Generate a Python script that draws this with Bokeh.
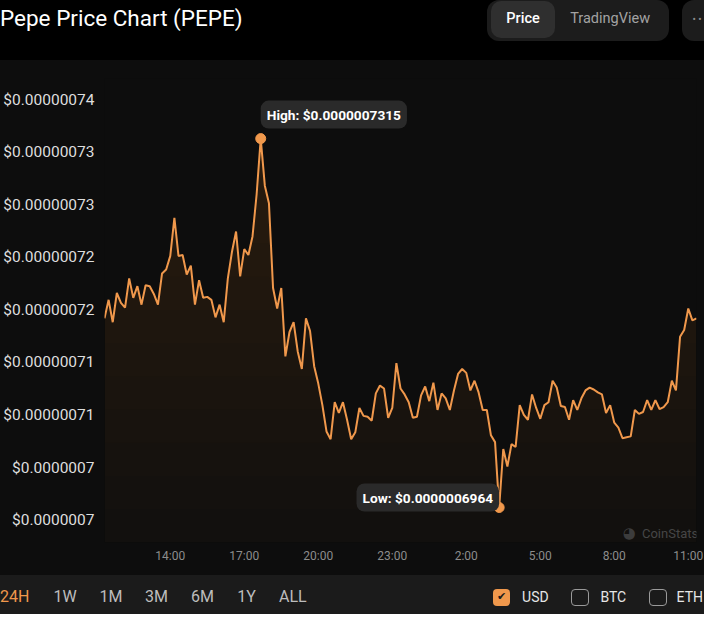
import numpy as np
import pandas as pd
from bokeh.plotting import figure
from bokeh.layouts import column
from bokeh.models import Range1d, FixedTicker, Label, DatetimeTickFormatter, Div
from bokeh.embed import file_html
from bokeh.resources import INLINE

# ---------------- data ----------------
title_text = "Pepe Price Chart (PEPE)"
start_time = "2024-05-27 11:20"
step = "10min"
# PEPE price in units of 1e-9 USD, one value every 10 minutes over 24h
price_nano = [
    714.40, 716.16, 714.03, 716.81, 715.88, 715.42, 718.20, 716.35, 717.46, 715.70,
    717.55, 717.46, 716.72, 715.70, 718.67, 719.04, 720.34, 723.95, 720.34, 720.43,
    718.57, 719.41, 715.70, 718.02, 716.35, 716.44, 716.16, 714.49, 715.70, 714.03,
    718.20, 720.71, 722.66, 718.39, 720.99, 720.43, 722.19, 726.18, 731.50, 727.02,
    725.35, 717.28, 715.33, 717.28, 710.78, 713.10, 714.03, 711.25, 709.58, 714.40,
    713.19, 709.85, 708.19, 706.14, 703.64, 702.90, 706.42, 705.40, 706.42, 704.75,
    702.90, 703.55, 705.87, 705.12, 705.03, 704.66, 707.26, 708.00, 707.72, 704.94,
    705.87, 710.13, 707.72, 707.16, 706.42, 704.94, 705.03, 707.07, 707.91, 706.52,
    708.28, 705.68, 707.26, 706.79, 705.68, 707.54, 709.11, 709.58, 709.21, 707.54,
    708.46, 707.35, 705.68, 705.68, 703.27, 702.62, 696.40, 701.97, 700.30, 702.43,
    702.16, 706.14, 705.22, 704.75, 707.16, 705.87, 704.84, 706.14, 706.42, 708.46,
    707.81, 706.05, 705.96, 704.75, 706.61, 705.68, 706.79, 707.54, 707.81, 707.63,
    707.35, 707.16, 705.40, 706.14, 704.47, 704.01, 702.99, 703.08, 703.17, 705.68,
    705.31, 705.49, 706.61, 705.68, 706.61, 705.77, 705.96, 706.42, 708.46, 707.54,
    712.64, 713.29, 715.33, 714.21, 714.40,
]
y_range_nano = [693.07, 737.22]
y_tick_nano = [695.2, 700.2, 705.2, 710.2, 715.2, 720.2, 725.2, 730.2, 735.2]
y_tick_labels = ["$0.0000007", "$0.0000007", "$0.00000071", "$0.00000071",
                 "$0.00000072", "$0.00000072", "$0.00000073", "$0.00000073",
                 "$0.00000074"]
x_tick_labels = ["14:00", "17:00", "20:00", "23:00", "2:00", "5:00", "8:00", "11:00"]
view_tabs = ["Price", "TradingView"]
range_buttons = ["24H", "1W", "1M", "3M", "6M", "1Y", "ALL"]
currencies = ["USD", "BTC", "ETH"]

# ---------------- styling / layout ----------------
ORANGE = "#f0984c"
CHART_BG = "#0d0d0d"
FOOT_BG = "#1b1b1b"
FONT = "Roboto"
W, H = 704, 614
SX, SY = W / 720, H / 630
HEAD_H, FOOT_H = 60, 39
CHART_H = H - HEAD_H - FOOT_H
FL, FR, FT, FB = 103, 8, 18, 33


def px(v):
    return f"{v:.1f}px"


def abs_box(left, top, width, height, inner="", style=""):
    return (f'<div style="position:absolute;left:{px(left * SX)};top:{px(top * SY)};'
            f'width:{px(width * SX)};height:{px(height * SY)};display:flex;'
            f'align-items:center;{style}">{inner}</div>')


# ---------------- header (HTML) ----------------
head_html = [f'<div style="position:relative;width:{W}px;height:{HEAD_H}px;background:#000;'
             f'font-family:{FONT};overflow:hidden;margin:0;padding:0">']
head_html.append(abs_box(0, 0, 400, 38, title_text,
                         "font-size:22.5px;color:#ffffff;white-space:nowrap"))
head_html.append(abs_box(498, 0, 186, 42, "", "background:#1c1c1c;border-radius:12px"))
head_html.append(abs_box(502, 1, 66, 38, "", "background:#2f2f2f;border-radius:10px"))
for name, l, w, col, wt in zip(view_tabs, [502, 568], [66, 112], ["#ffffff", "#a3a3a3"],
                               [500, 400]):
    head_html.append(abs_box(l, 1, w, 38, name,
                             f"justify-content:center;font-size:14.5px;color:{col};"
                             f"font-weight:{wt}"))
head_html.append(abs_box(697, 0, 60, 42, "", "background:#1c1c1c;border-radius:12px"))
head_html.append(abs_box(700, 0, 26, 42, "• •",
                         "justify-content:center;font-size:10px;color:#8a8a8a"))
head_html.append("</div>")
header = Div(text="".join(head_html), width=W, height=HEAD_H, margin=0,
             styles={"background-color": "#000000"})

# ---------------- chart ----------------
prices = np.array(price_nano) * 1e-9
times = pd.date_range(start=start_time, periods=len(prices), freq=step)

start = times[0]
x_ticks, last = [], start
for lab in x_tick_labels:
    hh, mm = map(int, lab.split(":"))
    t = start.normalize() + pd.Timedelta(hours=hh, minutes=mm)
    while t <= last:
        t += pd.Timedelta(days=1)
    x_ticks.append(float(t.value // 10**6))
    last = t
y_ticks = [v * 1e-9 for v in y_tick_nano]

p = figure(width=W, height=CHART_H, x_axis_type="datetime",
           x_range=Range1d(times[0], times[-1]),
           y_range=Range1d(y_range_nano[0] * 1e-9, y_range_nano[1] * 1e-9),
           output_backend="svg", toolbar_location=None, margin=0,
           min_border_left=FL, min_border_right=FR, min_border_top=FT, min_border_bottom=FB,
           background_fill_color=CHART_BG, border_fill_color=None,
           styles={"background-color": CHART_BG})
p.outline_line_color = None
p.grid.visible = False

y0 = y_range_nano[0] * 1e-9
# vertical gradient emulated with stacked translucent layers
p.varea(x=times, y1=y0, y2=prices, fill_color=ORANGE, fill_alpha=0.025)
for lv in np.linspace(y0, 731e-9, 13)[1:]:
    p.varea(x=times, y1=np.minimum(prices, lv), y2=prices, fill_color=ORANGE, fill_alpha=0.011)
p.line(x=times, y=prices, line_color=ORANGE, line_width=2)

hi_i = int(np.argmax(prices))
lo_i = int(np.argmin(prices))
p.scatter(x=[times[hi_i], times[lo_i]], y=[prices[hi_i], prices[lo_i]], size=10,
          fill_color=ORANGE, line_color=ORANGE)


def ms(t):
    return float(t.value // 10**6)


common = dict(text_font=FONT, text_font_size="13.7px", text_font_style="bold",
              text_color="#ffffff", background_fill_color="#2a2a2a",
              background_fill_alpha=1, border_radius=8, padding=6)
p.add_layout(Label(x=ms(times[hi_i]), y=prices[hi_i], text=f"High: ${prices[hi_i]:.10f}",
                   anchor="bottom_left", y_offset=10, **common))
p.add_layout(Label(x=ms(times[lo_i]), y=prices[lo_i], text=f"Low: ${prices[lo_i]:.10f}",
                   anchor="center_right", y_offset=10, **common))

# watermark (screen units relative to the frame)
frame_bottom = CHART_H - FB
wm_y = frame_bottom - (547 - 62) * SY
p.add_layout(Label(x=642 * SX - FL, y=wm_y, x_units="screen", y_units="screen", text="◕",
                   text_font="DejaVu Sans", text_font_size="15px", text_color="#3c3c3c",
                   text_align="center", text_baseline="middle"))
p.add_layout(Label(x=655 * SX - FL, y=wm_y, x_units="screen", y_units="screen",
                   text="CoinStats", text_font=FONT, text_font_size="13px",
                   text_color="#464646", text_align="left", text_baseline="middle"))

# axes
p.xaxis.ticker = FixedTicker(ticks=x_ticks)
p.xaxis.formatter = DatetimeTickFormatter(hours="%H:%M")
p.xaxis.major_label_overrides = {t: lab for t, lab in zip(x_ticks, x_tick_labels)}
p.yaxis.ticker = FixedTicker(ticks=y_ticks)
p.yaxis.major_label_overrides = {t: lab for t, lab in zip(y_ticks, y_tick_labels)}
for ax in (p.xaxis, p.yaxis):
    ax.axis_line_color = None
    ax.major_tick_line_color = None
    ax.minor_tick_line_color = None
    ax.major_tick_out = 0
    ax.major_tick_in = 0
    ax.minor_tick_out = 0
    ax.major_label_text_font = FONT
p.xaxis.major_label_text_color = "#8c8c8c"
p.xaxis.major_label_text_font_size = "12px"
p.xaxis.major_label_standoff = 6
p.yaxis.major_label_text_color = "#dedede"
p.yaxis.major_label_text_font_size = "15.5px"
p.yaxis.major_label_standoff = 10

# ---------------- footer (HTML) ----------------
foot_html = [f'<div style="position:relative;width:{W}px;height:{FOOT_H}px;background:{FOOT_BG};'
             f'font-family:{FONT};overflow:hidden;margin:0;padding:0">']
btn_cx = [15, 66.5, 113.5, 160, 207, 252, 299.5]
for i, (lab, cx) in enumerate(zip(range_buttons, btn_cx)):
    col = ORANGE if i == 0 else "#bdbdbd"
    left = 0 if i == 0 else cx - 25
    just = "flex-start" if i == 0 else "center"
    foot_html.append(abs_box(left, 13, 50, 20, lab,
                             f"justify-content:{just};font-size:16px;color:{col}"))
for i, (cur, bl, tl) in enumerate(zip(currencies, [504, 584, 664], [534, 614, 692])):
    if i == 0:
        foot_html.append(abs_box(bl - 590 * 0, 14, 18, 18, "✔",
                                 f"justify-content:center;background:{ORANGE};border-radius:4px;"
                                 f"font-family:'DejaVu Sans';font-size:11px;color:#1b1b1b"))
    else:
        foot_html.append(abs_box(bl, 14, 18, 18, "",
                                 "box-sizing:border-box;border:1.5px solid #9a9a9a;"
                                 "border-radius:4px"))
    foot_html.append(abs_box(tl, 13, 40, 20, cur, "font-size:14px;color:#e6e6e6"))
foot_html.append("</div>")
footer = Div(text="".join(foot_html), width=W, height=FOOT_H, margin=0,
             styles={"background-color": FOOT_BG})

layout = column(header, p, footer, spacing=0, margin=0)
open("out.html", "w").write(file_html(layout, INLINE))
